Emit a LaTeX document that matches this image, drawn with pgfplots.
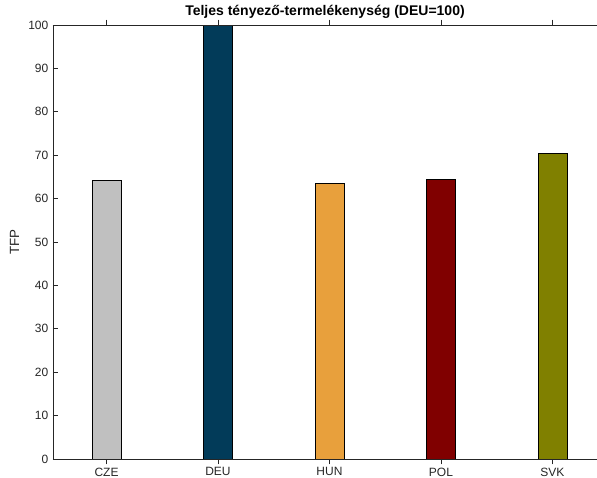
\documentclass[border=0pt]{standalone}
\usepackage{pgfplots}
\pgfplotsset{compat=1.18}
\usepackage{fontspec}
\setmainfont{Liberation Sans}

\definecolor{axgray}{RGB}{38,38,38}
\definecolor{cCZE}{RGB}{192,192,192}
\definecolor{cDEU}{RGB}{2,59,89}
\definecolor{cHUN}{RGB}{232,160,60}
\definecolor{cPOL}{RGB}{128,0,0}
\definecolor{cSVK}{RGB}{128,128,0}

\begin{document}
\begin{tikzpicture}
\useasboundingbox (-39.75pt,-14.25pt) rectangle (408pt,344.25pt);
\begin{axis}[
    scale only axis,
    width=408pt, height=325.5pt,
    xmin=0.52, xmax=5.4,
    ymin=0, ymax=100,
    axis x line*=box,
    axis y line*=left,
    axis line style={axgray, line width=0.5pt},
    tick align=inside,
    major tick length=4pt,
    tick style={axgray, line width=0.5pt},
    xtick={1,2,3,4,5},
    xticklabels={CZE,DEU,HUN,POL,SVK},
    ytick={0,10,...,100},
    ticklabel style={font=\fontsize{9}{10}\selectfont, text=axgray},
    xticklabel style={yshift=1pt},
    /pgf/number format/assume math mode=true,
    ylabel={TFP},
    ylabel style={font=\fontsize{10}{11}\selectfont, text=axgray},
    title={\textbf{Teljes tényező-termelékenység (DEU=100)}},
    title style={font=\fontsize{10.5}{12}\selectfont, yshift=-5pt},
    ybar, bar width=21.75pt, bar shift=0pt,
    axis on top,
]
\addplot[fill=cCZE, draw=black, line width=0.6pt] coordinates {(1,64.3)};
\addplot[fill=cDEU, draw=black, line width=0.6pt] coordinates {(2,100)};
\addplot[fill=cHUN, draw=black, line width=0.6pt] coordinates {(3,63.6)};
\addplot[fill=cPOL, draw=black, line width=0.6pt] coordinates {(4,64.5)};
\addplot[fill=cSVK, draw=black, line width=0.6pt] coordinates {(5,70.3)};
\end{axis}
\end{tikzpicture}
\end{document}
